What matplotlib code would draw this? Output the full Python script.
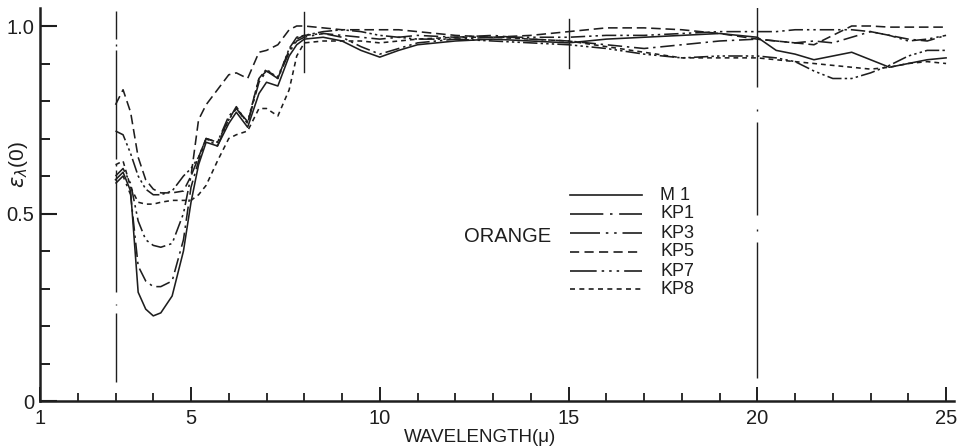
import matplotlib
matplotlib.use("Agg")
import matplotlib.pyplot as plt
from matplotlib.lines import Line2D
from matplotlib.ticker import FixedLocator

plt.rcParams['font.family'] = ['Liberation Sans', 'DejaVu Sans']
plt.rcParams['mathtext.fontset'] = 'dejavusans'

# ---------------- data ----------------
wavelength = [3.0, 3.2, 3.4, 3.6, 3.8, 4.0, 4.2, 4.5, 4.8, 5.0, 5.2, 5.4, 5.7, 6.0,
              6.2, 6.5, 6.8, 7.0, 7.3, 7.6, 7.8, 8.0, 8.5, 9.0, 9.5, 10.0, 10.5,
              11.0, 12.0, 13.0, 14.0, 15.0, 16.0, 17.0, 18.0, 19.0, 20.0, 20.5,
              21.0, 21.5, 22.0, 22.5, 23.0, 23.5, 24.0, 24.5, 25.0]

m1 = [0.59, 0.61, 0.56, 0.29, 0.245, 0.227, 0.235, 0.28, 0.40, 0.53, 0.63, 0.69, 0.68, 0.74,
      0.77, 0.73, 0.82, 0.85, 0.84, 0.92, 0.95, 0.965, 0.97, 0.96, 0.935, 0.917, 0.935,
      0.95, 0.96, 0.965, 0.96, 0.955, 0.965, 0.97, 0.975, 0.98, 0.97, 0.935,
      0.925, 0.91, 0.92, 0.93, 0.91, 0.89, 0.90, 0.91, 0.915]
kp1 = [0.58, 0.60, 0.55, 0.36, 0.32, 0.305, 0.305, 0.32, 0.43, 0.57, 0.64, 0.70, 0.69, 0.75,
       0.78, 0.74, 0.85, 0.88, 0.86, 0.93, 0.96, 0.97, 0.98, 0.975, 0.97, 0.965, 0.97,
       0.975, 0.97, 0.975, 0.965, 0.96, 0.95, 0.94, 0.95, 0.96, 0.965, 0.96,
       0.955, 0.96, 0.955, 0.97, 0.985, 0.975, 0.965, 0.96, 0.975]
kp3 = [0.60, 0.62, 0.58, 0.48, 0.43, 0.415, 0.41, 0.42, 0.50, 0.60, 0.65, 0.70, 0.69, 0.76,
       0.78, 0.745, 0.86, 0.88, 0.865, 0.935, 0.965, 0.975, 0.98, 0.97, 0.945, 0.925, 0.94,
       0.955, 0.965, 0.97, 0.97, 0.97, 0.975, 0.975, 0.98, 0.985, 0.985, 0.985,
       0.99, 0.99, 0.99, 0.99, 0.985, 0.975, 0.96, 0.965, 0.975]
kp5 = [0.79, 0.83, 0.77, 0.65, 0.59, 0.565, 0.555, 0.555, 0.56, 0.60, 0.75, 0.79, 0.83, 0.87,
       0.875, 0.86, 0.93, 0.935, 0.95, 0.99, 1.0, 1.0, 0.995, 0.99, 0.99, 0.99, 0.99,
       0.985, 0.975, 0.97, 0.975, 0.985, 0.995, 0.995, 0.99, 0.98, 0.965, 0.96,
       0.955, 0.95, 0.975, 1.0, 1.0, 0.997, 0.997, 0.997, 0.997]
kp7 = [0.72, 0.71, 0.66, 0.60, 0.565, 0.55, 0.55, 0.56, 0.60, 0.62, 0.65, 0.70, 0.68, 0.75,
       0.785, 0.74, 0.86, 0.885, 0.86, 0.94, 0.97, 0.975, 0.985, 0.99, 0.985, 0.975, 0.97,
       0.965, 0.965, 0.96, 0.955, 0.95, 0.94, 0.925, 0.915, 0.92, 0.92, 0.915,
       0.905, 0.88, 0.86, 0.86, 0.875, 0.895, 0.92, 0.935, 0.935]
kp8 = [0.63, 0.64, 0.57, 0.53, 0.525, 0.525, 0.53, 0.535, 0.535, 0.535, 0.55, 0.575, 0.64, 0.70,
       0.71, 0.72, 0.78, 0.78, 0.76, 0.83, 0.92, 0.955, 0.96, 0.96, 0.96, 0.955, 0.96,
       0.965, 0.97, 0.97, 0.965, 0.96, 0.945, 0.93, 0.915, 0.915, 0.915, 0.91,
       0.905, 0.90, 0.895, 0.89, 0.885, 0.89, 0.90, 0.905, 0.90]

series_names = ['M 1', 'KP1', 'KP3', 'KP5', 'KP7', 'KP8']
series_values = [m1, kp1, kp3, kp5, kp7, kp8]
x_major = [1, 5, 10, 15, 20, 25]
x_labels = ['1', '5', '10', '15', '20', '25']
y_major = [0.0, 0.5, 1.0]
y_labels = ['0', '0.5', '1.0']

# ---------------- styling ----------------
ink = '#1e1e1e'
curve_styles = ['-', (0, (9, 3, 1.5, 3)), (0, (9, 2.5, 1.5, 2.5, 1.5, 2.5)),
                (0, (6, 3)), (0, (9, 2, 1.5, 2, 1.5, 2, 1.5, 2)), (0, (3, 2.5))]
legend_styles = ['-', (0, (20, 4, 1.5, 4)), (0, (18, 3.5, 1.5, 3.5, 1.5, 3.5)),
                 (0, (5.5, 3.2)), (0, (16, 3, 1.5, 3, 1.5, 3, 1.5, 3)), (0, (3, 2.6))]

W, H = 966, 448
fig = plt.figure(figsize=(W / 100, H / 100), dpi=100)
fig.patch.set_facecolor('white')
ax = fig.add_axes([40 / W, 47 / H, 914 / W, 393 / H])
ax.set_xlim(1, 25.21)
ax.set_ylim(0, 1.048)
for s in ['top', 'right']:
    ax.spines[s].set_visible(False)
for s in ['left', 'bottom']:
    ax.spines[s].set_linewidth(1.8)
    ax.spines[s].set_color(ink)

ax.xaxis.set_major_locator(FixedLocator(x_major))
ax.set_xticklabels(x_labels)
ax.xaxis.set_minor_locator(FixedLocator([v for v in range(2, 26) if v not in x_major]))
ax.yaxis.set_major_locator(FixedLocator(y_major))
ax.set_yticklabels(y_labels)
ax.yaxis.set_minor_locator(FixedLocator([0.1, 0.2, 0.3, 0.4, 0.6, 0.7, 0.8, 0.9]))
ax.tick_params(axis='x', which='major', direction='in', length=10, width=1.4,
               colors=ink, labelsize=14.5, pad=6)
ax.tick_params(axis='x', which='minor', direction='in', length=5.5, width=1.3, colors=ink)
ax.tick_params(axis='y', which='major', direction='in', length=12.5, width=1.5,
               colors=ink, labelsize=14.5, pad=4)
ax.tick_params(axis='y', which='minor', direction='in', length=7.5, width=1.4, colors=ink)

# vertical marker lines (dash-dot style of the original drawing)
for a, b in [(1.04, 0.965), (0.952, 0.948), (0.935, 0.645), (0.632, 0.628),
             (0.615, 0.29), (0.259, 0.255), (0.235, 0.05)]:
    ax.plot([3, 3], [a, b], color=ink, lw=1.0, solid_capstyle='butt')
for a, b in [(1.05, 0.837), (0.778, 0.774), (0.744, 0.496), (0.458, 0.454), (0.424, 0.061)]:
    ax.plot([20, 20], [a, b], color=ink, lw=1.0, solid_capstyle='butt')
ax.plot([8, 8], [1.037, 0.877], color=ink, lw=1.0)
ax.plot([15, 15], [1.02, 0.888], color=ink, lw=1.0)

for vals, ls in zip(series_values, curve_styles):
    ax.plot(wavelength, vals, color=ink, lw=1.15, linestyle=ls)

# legend drawn by hand
fig.text(508 / W, 1 - 237 / H, 'ORANGE', ha='center', va='center', fontsize=14.5, color=ink)
row_y = [195, 214, 233, 252, 271, 289]
for name, ls, yy in zip(series_names, legend_styles, row_y):
    fig.add_artist(Line2D([570 / W, 642 / W], [1 - yy / H, 1 - yy / H],
                          transform=fig.transFigure, color=ink, lw=1.2, linestyle=ls))
    fig.text(660 / W, 1 - yy / H, name, ha='left', va='center', fontsize=13, color=ink)

fig.text(480 / W, 1 - 437 / H, 'WAVELENGTH(\u03bc)', ha='center', va='center',
         fontsize=13.5, color=ink)
fig.text(18 / W, 1 - 165 / H, r'$\varepsilon_{\lambda}$(0)', ha='center', va='center',
         rotation=90, fontsize=15, color=ink)

fig.savefig('out.png', dpi=100, facecolor='white')
